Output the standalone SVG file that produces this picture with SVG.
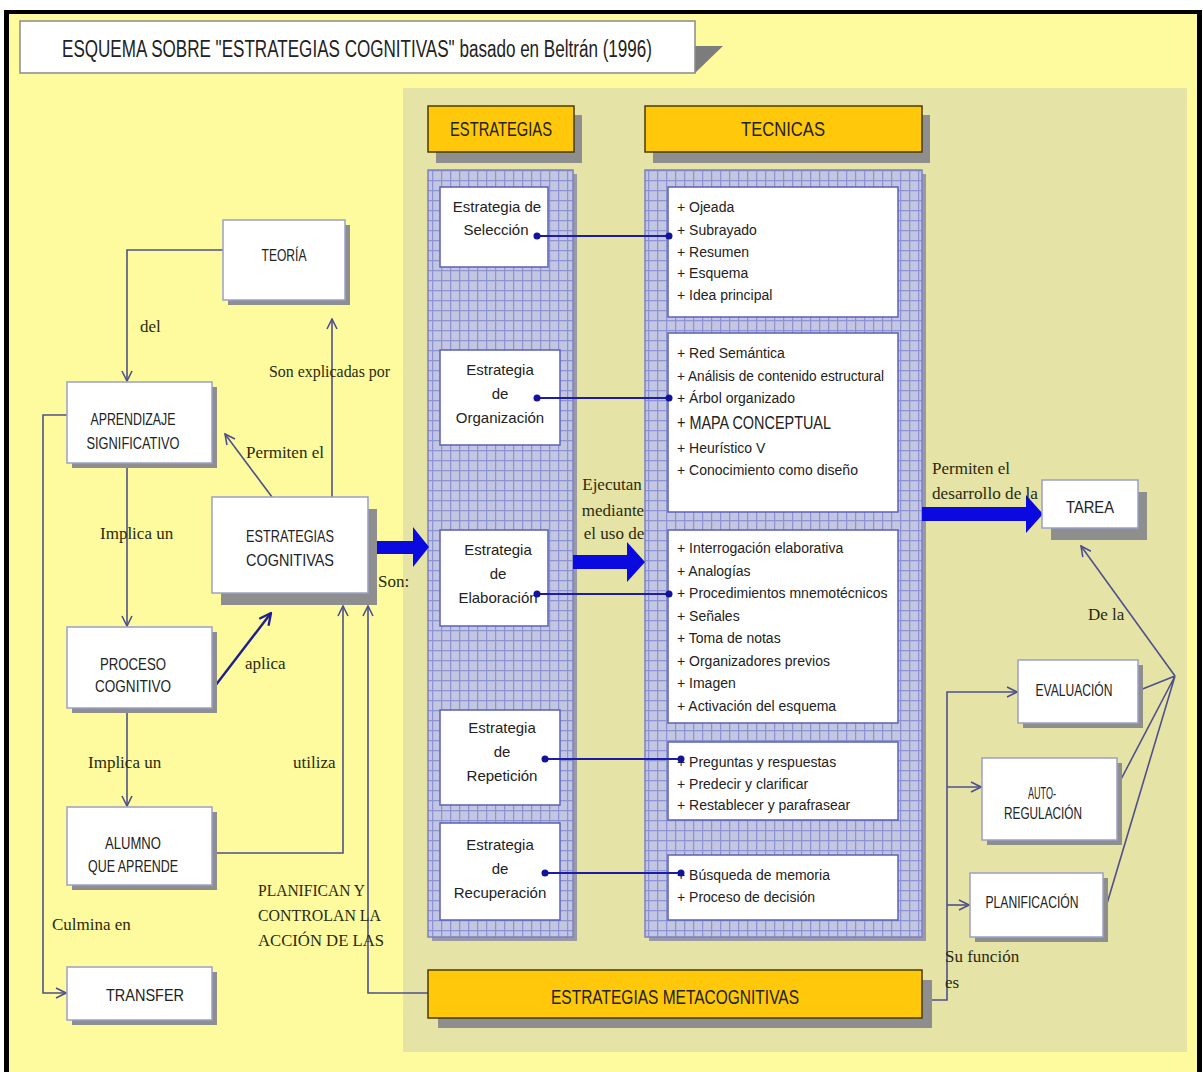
<svg xmlns="http://www.w3.org/2000/svg" width="1203" height="1072" viewBox="0 0 1203 1072">
<style>
.sans{font-family:"Liberation Sans",Arial,sans-serif;fill:#222;}
.serif{font-family:"Liberation Serif","Times New Roman",serif;fill:#2a2a10;font-size:17px;}
.node{font-size:17px;text-anchor:middle;}
.tech{font-size:14px;}
.strat{font-size:15px;text-anchor:middle;}
.wbox{fill:#fff;stroke:#9aa0c8;stroke-width:1.5;}
.gbox{fill:#fff;stroke:#5a60b8;stroke-width:1.5;}
.shadow{fill:#8e8e8e;}
.hdr{fill:#FFC80A;stroke:#4a3d08;stroke-width:1.5;}
.con{fill:none;stroke:#50508c;stroke-width:1.6;}
.dl{stroke:#1c1ca8;stroke-width:2;}
.dot{fill:#12129a;}
.big{fill:#0a0ae0;}
</style>
<defs>
<pattern id="grid" width="9" height="10" patternUnits="userSpaceOnUse">
<rect width="9" height="10" fill="#C3C6E0"/>
<path d="M0,0.6H9M0.6,0V10" stroke="#8D92D2" stroke-width="1.3"/>
</pattern>
<marker id="arr" viewBox="0 0 12 12" refX="11" refY="6" markerWidth="12" markerHeight="12" markerUnits="userSpaceOnUse" orient="auto">
<path d="M1,1 L11,6 L1,11" fill="none" stroke="#50508c" stroke-width="1.6"/>
</marker>
<marker id="arrB" viewBox="0 0 12 12" refX="11" refY="6" markerWidth="14" markerHeight="14" markerUnits="userSpaceOnUse" orient="auto">
<path d="M1,1 L11,6 L1,11" fill="none" stroke="#1e1e90" stroke-width="2"/>
</marker>
</defs>

<!-- background -->
<rect x="0" y="0" width="1203" height="1072" fill="#ffffff"/>
<rect x="6" y="12" width="1194" height="1060" fill="#FDFB9E"/>
<rect x="4" y="10" width="1198" height="4" fill="#000"/>
<rect x="4" y="10" width="5" height="1062" fill="#000"/>
<rect x="1197" y="10" width="5" height="1062" fill="#000"/>
<rect x="403" y="88" width="784" height="964" fill="#E6E3A6"/>

<!-- title -->
<g id="title">
<polygon points="695,46 723,46 695,73" fill="#7c7c7c"/>
<rect x="20" y="21" width="675" height="52" fill="#fff" stroke="#8a8a8a" stroke-width="1.5"/>
<text class="sans" x="62" y="57" font-size="23" textLength="590" lengthAdjust="spacingAndGlyphs">ESQUEMA SOBRE  "ESTRATEGIAS COGNITIVAS"  basado en Beltrán (1996)</text>
</g>

<!-- headers -->
<g id="hdr-estrategias">
<rect x="436" y="115" width="146" height="48" class="shadow"/>
<rect x="428" y="106" width="146" height="46" class="hdr"/>
<text class="sans" x="501" y="136" font-size="21" text-anchor="middle" textLength="102" lengthAdjust="spacingAndGlyphs">ESTRATEGIAS</text>
</g>
<g id="hdr-tecnicas">
<rect x="653" y="115" width="277" height="48" class="shadow"/>
<rect x="645" y="106" width="277" height="46" class="hdr"/>
<text class="sans" x="783" y="136" font-size="21" text-anchor="middle" textLength="84" lengthAdjust="spacingAndGlyphs">TECNICAS</text>
</g>

<!-- grid columns -->
<rect x="432" y="174" width="145" height="767" fill="#9a9aa6"/>
<rect x="428" y="170" width="145" height="767" fill="url(#grid)" stroke="#7b80c4" stroke-width="1.5"/>
<rect x="649" y="174" width="277" height="767" fill="#9a9aa6"/>
<rect x="645" y="170" width="277" height="767" fill="url(#grid)" stroke="#7b80c4" stroke-width="1.5"/>

<!-- connectors -->
<g id="connectors">
<path class="con" d="M223,250 H127 V381" marker-end="url(#arr)"/>
<path class="con" d="M127,463 V626" marker-end="url(#arr)"/>
<path class="con" d="M127,708 V806" marker-end="url(#arr)"/>
<path class="con" d="M67,415 H43 V993 H66" marker-end="url(#arr)"/>
<path class="con" d="M332,497 V319" marker-end="url(#arr)"/>
<path class="con" d="M272,497 L225,434" marker-end="url(#arr)"/>
<path fill="none" stroke="#1e1e90" stroke-width="2.4" d="M212,690 L271,613" marker-end="url(#arrB)"/>
<path class="con" d="M212,853 H343 V606" marker-end="url(#arr)"/>
<path class="con" d="M428,993 H368 V606" marker-end="url(#arr)"/>
<path class="con" d="M922,1000 H947 V692 H1017" marker-end="url(#arr)"/>
<path class="con" d="M947,787 H981" marker-end="url(#arr)"/>
<path class="con" d="M947,905 H969" marker-end="url(#arr)"/>
<path class="con" d="M1140,690 L1175,676 M1117,787 L1175,676 M1103,917 L1175,676"/>
<path class="con" d="M1175,676 L1081,546" marker-end="url(#arr)"/>
<polygon class="big" points="343,541 413,541 413,527 429,547 413,567 413,554 343,554"/>
<polygon class="big" points="573,555 627,555 627,542 645,562 627,582 627,569 573,569"/>
<polygon class="big" points="922,507 1026,507 1026,495 1043,514 1026,533 1026,521 922,521"/>
</g>

<!-- left nodes -->
<g id="teoria">
<rect x="228" y="225" width="122" height="80" class="shadow"/>
<rect x="223" y="220" width="122" height="80" class="wbox"/>
<text class="sans node" x="284" y="261" textLength="45" lengthAdjust="spacingAndGlyphs">TEORÍA</text>
</g>
<g id="aprendizaje">
<rect x="72" y="387" width="145" height="81" class="shadow"/>
<rect x="67" y="382" width="145" height="81" class="wbox"/>
<text class="sans node" x="133" y="425" textLength="85" lengthAdjust="spacingAndGlyphs">APRENDIZAJE</text>
<text class="sans node" x="133" y="449" textLength="93" lengthAdjust="spacingAndGlyphs">SIGNIFICATIVO</text>
</g>
<g id="estrategias-cognitivas">
<rect x="221" y="509" width="156" height="96" class="shadow"/>
<rect x="212" y="497" width="156" height="96" class="wbox"/>
<text class="sans node" x="290" y="542" font-size="19" textLength="88" lengthAdjust="spacingAndGlyphs">ESTRATEGIAS</text>
<text class="sans node" x="290" y="566" font-size="19" textLength="88" lengthAdjust="spacingAndGlyphs">COGNITIVAS</text>
</g>
<g id="proceso">
<rect x="72" y="632" width="145" height="81" class="shadow"/>
<rect x="67" y="627" width="145" height="81" class="wbox"/>
<text class="sans node" x="133" y="670" textLength="66" lengthAdjust="spacingAndGlyphs">PROCESO</text>
<text class="sans node" x="133" y="692" textLength="76" lengthAdjust="spacingAndGlyphs">COGNITIVO</text>
</g>
<g id="alumno">
<rect x="72" y="812" width="145" height="78" class="shadow"/>
<rect x="67" y="807" width="145" height="78" class="wbox"/>
<text class="sans node" x="133" y="849" textLength="56" lengthAdjust="spacingAndGlyphs">ALUMNO</text>
<text class="sans node" x="133" y="872" textLength="90" lengthAdjust="spacingAndGlyphs">QUE APRENDE</text>
</g>
<g id="transfer">
<rect x="72" y="972" width="145" height="53" class="shadow"/>
<rect x="67" y="967" width="145" height="53" class="wbox"/>
<text class="sans node" x="145" y="1001" font-size="21" textLength="78" lengthAdjust="spacingAndGlyphs">TRANSFER</text>
</g>

<!-- strategies -->
<g id="seleccion">
<rect x="440" y="187" width="108" height="80" class="gbox"/>
<text class="sans strat" x="497" y="212">Estrategia de</text>
<text class="sans strat" x="496" y="235">Selección</text>
</g>
<g id="organizacion">
<rect x="440" y="350" width="120" height="95" class="gbox"/>
<text class="sans strat" x="500" y="375">Estrategia</text>
<text class="sans strat" x="500" y="399">de</text>
<text class="sans strat" x="500" y="423">Organización</text>
</g>
<g id="elaboracion">
<rect x="440" y="530" width="108" height="96" class="gbox"/>
<text class="sans strat" x="498" y="555">Estrategia</text>
<text class="sans strat" x="498" y="579">de</text>
<text class="sans strat" x="498" y="603">Elaboración</text>
</g>
<g id="repeticion">
<rect x="440" y="710" width="120" height="95" class="gbox"/>
<text class="sans strat" x="502" y="733">Estrategia</text>
<text class="sans strat" x="502" y="757">de</text>
<text class="sans strat" x="502" y="781">Repetición</text>
</g>
<g id="recuperacion">
<rect x="440" y="823" width="120" height="97" class="gbox"/>
<text class="sans strat" x="500" y="850">Estrategia</text>
<text class="sans strat" x="500" y="874">de</text>
<text class="sans strat" x="500" y="898">Recuperación</text>
</g>

<!-- technique boxes -->
<g id="tec-seleccion">
<rect x="668" y="187" width="230" height="130" class="gbox"/>
<text class="sans tech" x="677" y="212">+ Ojeada</text>
<text class="sans tech" x="677" y="235">+ Subrayado</text>
<text class="sans tech" x="677" y="257">+ Resumen</text>
<text class="sans tech" x="677" y="278">+ Esquema</text>
<text class="sans tech" x="677" y="300">+ Idea principal</text>
</g>
<g id="tec-organizacion">
<rect x="668" y="333" width="230" height="179" class="gbox"/>
<text class="sans tech" x="677" y="358">+ Red Semántica</text>
<text class="sans tech" x="677" y="381" textLength="207" lengthAdjust="spacingAndGlyphs">+ Análisis de contenido estructural</text>
<text class="sans tech" x="677" y="403">+ Árbol organizado</text>
<text class="sans" x="677" y="429" font-size="19" fill="#111" textLength="154" lengthAdjust="spacingAndGlyphs">+ MAPA CONCEPTUAL</text>
<text class="sans tech" x="677" y="453">+ Heurístico V</text>
<text class="sans tech" x="677" y="475">+ Conocimiento como diseño</text>
</g>
<g id="tec-elaboracion">
<rect x="668" y="530" width="230" height="193" class="gbox"/>
<text class="sans tech" x="677" y="553">+ Interrogación elaborativa</text>
<text class="sans tech" x="677" y="576">+ Analogías</text>
<text class="sans tech" x="677" y="598">+ Procedimientos mnemotécnicos</text>
<text class="sans tech" x="677" y="621">+ Señales</text>
<text class="sans tech" x="677" y="643">+ Toma de notas</text>
<text class="sans tech" x="677" y="666">+ Organizadores previos</text>
<text class="sans tech" x="677" y="688">+ Imagen</text>
<text class="sans tech" x="677" y="711">+ Activación del esquema</text>
</g>
<g id="tec-repeticion">
<rect x="668" y="742" width="230" height="78" class="gbox"/>
<text class="sans tech" x="677" y="767">+ Preguntas y respuestas</text>
<text class="sans tech" x="677" y="789">+ Predecir y clarificar</text>
<text class="sans tech" x="677" y="810">+ Restablecer y parafrasear</text>
</g>
<g id="tec-recuperacion">
<rect x="668" y="855" width="230" height="65" class="gbox"/>
<text class="sans tech" x="677" y="880">+ Búsqueda de memoria</text>
<text class="sans tech" x="677" y="902">+ Proceso de decisión</text>
</g>

<!-- dot links -->
<g id="dot-links">
<line class="dl" x1="537" y1="236" x2="669" y2="236"/>
<circle class="dot" cx="537" cy="236" r="3.5"/><circle class="dot" cx="669" cy="236" r="3.5"/>
<line class="dl" x1="537" y1="398" x2="669" y2="398"/>
<circle class="dot" cx="537" cy="398" r="3.5"/><circle class="dot" cx="669" cy="398" r="3.5"/>
<line class="dl" x1="537" y1="594" x2="669" y2="594"/>
<circle class="dot" cx="537" cy="594" r="3.5"/><circle class="dot" cx="669" cy="594" r="3.5"/>
<line class="dl" x1="545" y1="759" x2="681" y2="759"/>
<circle class="dot" cx="545" cy="759" r="3.5"/><circle class="dot" cx="681" cy="759" r="3.5"/>
<line class="dl" x1="545" y1="873" x2="681" y2="873"/>
<circle class="dot" cx="545" cy="873" r="3.5"/><circle class="dot" cx="681" cy="873" r="3.5"/>
</g>

<!-- meta -->
<g id="metacognitivas">
<rect x="438" y="980" width="494" height="48" class="shadow"/>
<rect x="428" y="970" width="494" height="48" class="hdr"/>
<text class="sans" x="675" y="1004" font-size="21" text-anchor="middle" textLength="248" lengthAdjust="spacingAndGlyphs">ESTRATEGIAS METACOGNITIVAS</text>
</g>

<!-- right nodes -->
<g id="tarea">
<rect x="1051" y="492" width="96" height="48" class="shadow"/>
<rect x="1042" y="480" width="96" height="48" class="wbox"/>
<text class="sans node" x="1090" y="513" font-size="23" textLength="48" lengthAdjust="spacingAndGlyphs">TAREA</text>
</g>
<g id="evaluacion">
<rect x="1023" y="665" width="120" height="63" class="shadow"/>
<rect x="1018" y="660" width="120" height="63" class="wbox"/>
<text class="sans node" x="1074" y="696" font-size="16" textLength="77" lengthAdjust="spacingAndGlyphs">EVALUACIÓN</text>
</g>
<g id="autoregulacion">
<rect x="987" y="763" width="135" height="82" class="shadow"/>
<rect x="982" y="758" width="135" height="82" class="wbox"/>
<text class="sans node" x="1042" y="799" font-size="16" textLength="28" lengthAdjust="spacingAndGlyphs">AUTO-</text>
<text class="sans node" x="1043" y="819" font-size="16" textLength="78" lengthAdjust="spacingAndGlyphs">REGULACIÓN</text>
</g>
<g id="planificacion">
<rect x="975" y="878" width="133" height="64" class="shadow"/>
<rect x="970" y="873" width="133" height="64" class="wbox"/>
<text class="sans node" x="1032" y="908" font-size="16" textLength="93" lengthAdjust="spacingAndGlyphs">PLANIFICACIÓN</text>
</g>

<!-- connector labels -->
<g id="labels">
<text class="serif" x="140" y="332">del</text>
<text class="serif" x="269" y="377" textLength="121" lengthAdjust="spacingAndGlyphs">Son explicadas por</text>
<text class="serif" x="246" y="458">Permiten el</text>
<text class="serif" x="100" y="539">Implica un</text>
<text class="serif" x="378" y="587">Son:</text>
<text class="serif" x="245" y="669">aplica</text>
<text class="serif" x="88" y="768">Implica un</text>
<text class="serif" x="293" y="768">utiliza</text>
<text class="serif" x="258" y="896" textLength="107" lengthAdjust="spacingAndGlyphs">PLANIFICAN Y</text>
<text class="serif" x="258" y="921" textLength="123" lengthAdjust="spacingAndGlyphs">CONTROLAN LA</text>
<text class="serif" x="258" y="946" textLength="126" lengthAdjust="spacingAndGlyphs">ACCIÓN  DE LAS</text>
<text class="serif" x="52" y="930">Culmina en</text>
<text class="serif" x="612" y="490" text-anchor="middle">Ejecutan</text>
<text class="serif" x="613" y="516" text-anchor="middle">mediante</text>
<text class="serif" x="614" y="539" text-anchor="middle">el uso de</text>
<text class="serif" x="932" y="474">Permiten el</text>
<text class="serif" x="932" y="499" textLength="106" lengthAdjust="spacingAndGlyphs">desarrollo de la</text>
<text class="serif" x="1088" y="620">De la</text>
<text class="serif" x="945" y="962">Su función</text>
<text class="serif" x="945" y="988">es</text>
</g>
</svg>
